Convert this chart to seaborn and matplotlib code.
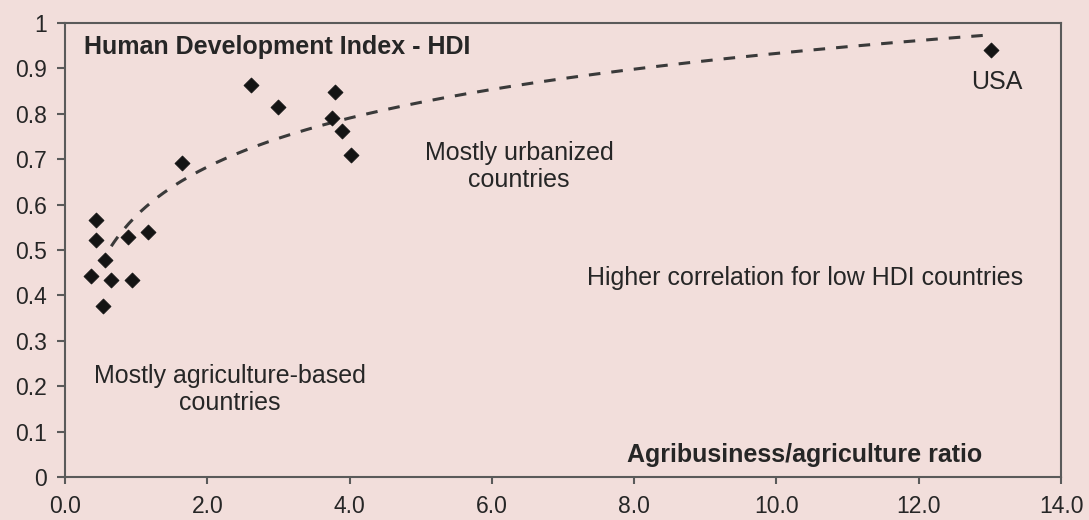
import matplotlib
matplotlib.use("Agg")
import matplotlib.pyplot as plt
import seaborn as sns
import numpy as np
import pandas as pd

# valores (ratio agronegocio/agricultura vs IDH)
ratio = [0.43, 0.43, 0.88, 1.16, 0.56, 0.37, 0.65, 0.94, 0.54,
         1.64, 2.62, 3.00, 3.79, 3.75, 3.90, 4.02, 13.02]
hdi = [0.566, 0.522, 0.528, 0.539, 0.479, 0.443, 0.434, 0.434, 0.377,
       0.692, 0.863, 0.814, 0.847, 0.790, 0.761, 0.709, 0.940]
trend_start, trend_end = 0.65, 12.9

x_ticks = [0, 2, 4, 6, 8, 10, 12, 14]
y_ticks = [0, 0.1, 0.2, 0.3, 0.4, 0.5, 0.6, 0.7, 0.8, 0.9, 1]
y_labels = ["0", "0.1", "0.2", "0.3", "0.4", "0.5", "0.6", "0.7", "0.8", "0.9", "1"]

fondo = "#f2dedb"
texto = "#262626"

sns.set_theme(style="ticks")
plt.rcParams['font.family'] = ['Liberation Sans', 'DejaVu Sans']

df = pd.DataFrame({"ratio": ratio, "hdi": hdi})

fig = plt.figure(figsize=(10.89, 5.2), dpi=100, facecolor=fondo)
ax = fig.add_axes([0.0597, 0.0827, 0.9146, 0.8731])
ax.set_facecolor(fondo)

# tendencia logaritmica ajustada a los puntos (como la de Excel)
coef = np.polyfit(np.log(df["ratio"]), df["hdi"], 1)
xs = np.linspace(trend_start, trend_end, 300)
sns.lineplot(x=xs, y=np.polyval(coef, np.log(xs)), ax=ax, color="#3a3a3a",
             lw=2.2, ls=(0, (3.8, 3.6)))

sns.scatterplot(data=df, x="ratio", y="hdi", marker="D", s=58, color="#141414",
                edgecolor="#141414", linewidth=0.6, ax=ax, zorder=3)

ax.set_xlim(0, 14)
ax.set_ylim(0, 1)
ax.set_xticks(x_ticks)
ax.set_xticklabels([f"{v:.1f}" for v in x_ticks])
ax.set_yticks(y_ticks)
ax.set_yticklabels(y_labels)
ax.set_xlabel("")
ax.set_ylabel("")

for s in ax.spines.values():
    s.set_color("#5a5a5a")
    s.set_linewidth(1.5)
ax.tick_params(axis="both", colors="#5a5a5a", labelcolor=texto, labelsize=16.5, width=1.5)
ax.tick_params(axis="y", length=6, pad=7)
ax.tick_params(axis="x", length=5, pad=8)

ax.text(0.27, 0.947, "Human Development Index - HDI", ha="left", va="center",
        fontsize=18, fontweight="bold", color=texto)
ax.text(10.39, 0.048, "Agribusiness/agriculture ratio", ha="center", va="center",
        fontsize=18, fontweight="bold", color=texto)
ax.text(6.38, 0.684, "Mostly urbanized\ncountries", ha="center", va="center",
        fontsize=18, color=texto, linespacing=1.15)
ax.text(10.40, 0.438, "Higher correlation for low HDI countries", ha="center", va="center",
        fontsize=18, color=texto)
ax.text(2.32, 0.192, "Mostly agriculture-based\ncountries", ha="center", va="center",
        fontsize=18, color=texto, linespacing=1.15)
ax.text(13.1, 0.870, "USA", ha="center", va="center", fontsize=18, color=texto)

fig.savefig("out.png", dpi=100, facecolor=fondo)
